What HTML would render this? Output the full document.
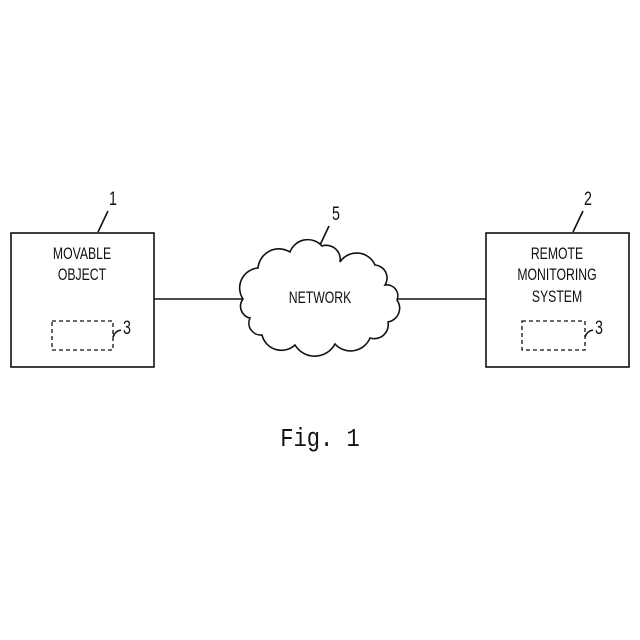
<!DOCTYPE html>
<html><head><style>
html,body{margin:0;padding:0;background:#fff;}
svg{display:block;}
text{font-family:"Liberation Sans",sans-serif;fill:#111;}
</style></head><body>
<svg width="640" height="640" viewBox="0 0 640 640" xmlns="http://www.w3.org/2000/svg">
<g fill="none" stroke="#111" stroke-width="1.6">
<rect x="11" y="233" width="143" height="134"/>
<rect x="486" y="233" width="143" height="134"/>
<rect x="52" y="321" width="61" height="29" stroke-dasharray="4,3" stroke-width="1.3"/>
<rect x="522" y="321" width="63" height="29" stroke-dasharray="4,3" stroke-width="1.3"/>
<line x1="154" y1="299" x2="243" y2="299"/>
<line x1="397" y1="299" x2="486" y2="299"/>
<line x1="98" y1="232" x2="108" y2="211"/>
<line x1="573" y1="232" x2="583" y2="211"/>
<line x1="320" y1="245" x2="329" y2="226"/>
<path d="M113,337 q2,-6 8,-7"/>
<path d="M585,337 q2,-6 8,-7"/>
<path d="M243,299 A20,20 0 0 1 258,268 A21,21 0 0 1 290,252 A19,19 0 0 1 322,246 A14,14 0 0 1 340,262 A20,20 0 0 1 375,265 A13,13 0 0 1 385,285 A11,11 0 0 1 397,300 A14,14 0 0 1 388,322 A14,14 0 0 1 370,338 A21,21 0 0 1 335,344 A23,23 0 0 1 295,345 A20,20 0 0 1 262,335 A12,12 0 0 1 250,318 A12,12 0 0 1 243,299 Z"/>
</g>
<g font-size="17" text-anchor="middle">
<text x="82" y="259" transform="translate(82,0) scale(0.72,1) translate(-82,0)">MOVABLE</text>
<text x="82" y="280" transform="translate(82,0) scale(0.72,1) translate(-82,0)">OBJECT</text>
<text x="557" y="259" transform="translate(557,0) scale(0.72,1) translate(-557,0)">REMOTE</text>
<text x="557" y="280" transform="translate(557,0) scale(0.72,1) translate(-557,0)">MONITORING</text>
<text x="557" y="302" transform="translate(557,0) scale(0.72,1) translate(-557,0)">SYSTEM</text>
<text x="320" y="303" transform="translate(320,0) scale(0.72,1) translate(-320,0)">NETWORK</text>
<text x="113" y="205" font-size="19" transform="translate(113,0) scale(0.75,1) translate(-113,0)">1</text>
<text x="588" y="205" font-size="19" transform="translate(588,0) scale(0.75,1) translate(-588,0)">2</text>
<text x="336" y="220" font-size="19" transform="translate(336,0) scale(0.75,1) translate(-336,0)">5</text>
<text x="127" y="334" font-size="19" transform="translate(127,0) scale(0.75,1) translate(-127,0)">3</text>
<text x="599" y="334" font-size="19" transform="translate(599,0) scale(0.75,1) translate(-599,0)">3</text>
</g>
<text x="320" y="446" font-size="26" text-anchor="middle" transform="translate(320,0) scale(0.85,1) translate(-320,0)" style="font-family:'Liberation Mono',monospace">Fig. 1</text>
</svg>
</body></html>
